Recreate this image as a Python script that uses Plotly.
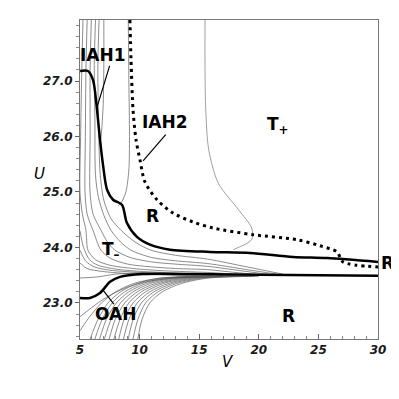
import plotly.graph_objects as go

# ---- data (V, U) ----
# thick separatrix through IAH1
iah1_v = [5.0, 5.67, 6.09, 6.34, 6.68, 6.93, 7.27, 7.77, 8.52, 8.94, 9.78, 10.87, 12.55, 15.9, 19.26, 22.87, 25.72, 30.0]
iah1_u = [27.18, 27.18, 27.02, 26.66, 25.94, 25.49, 25.04, 24.86, 24.77, 24.44, 24.19, 24.05, 23.96, 23.92, 23.90, 23.83, 23.81, 23.74]

# dotted curve IAH2
iah2_v = [9.19, 9.28, 9.45, 9.70, 10.03, 10.45, 11.46, 12.80, 14.48, 16.16, 19.51, 23.2, 25.13, 26.56, 27.06, 30.0]
iah2_u = [28.10, 27.38, 26.48, 25.94, 25.58, 25.18, 24.86, 24.62, 24.46, 24.35, 24.23, 24.14, 24.03, 23.92, 23.74, 23.65]

# thick curve OAH
oah_v = [5.0, 5.84, 6.68, 7.52, 8.36, 10.29, 14.48, 20.1, 30.0]
oah_u = [23.09, 23.09, 23.18, 23.38, 23.47, 23.52, 23.52, 23.51, 23.49]

# thin orbits above the OAH line
upper_v = [
    [6.6, 6.5, 6.55, 6.7, 7.0, 7.6, 8.44, 9.6, 10.96, 13.0, 15.7, 19.0, 22.0],
    [6.3, 6.2, 6.25, 6.3, 6.55, 7.0, 7.6, 8.4, 9.28, 11.0, 13.0, 15.7, 19.0, 21.5],
    [5.95, 5.85, 5.85, 5.84, 6.1, 6.76, 7.3, 7.94, 9.2, 11.0, 13.0, 15.7, 18.5, 21.0],
    [5.6, 5.5, 5.45, 5.42, 5.6, 6.09, 6.76, 7.6, 9.0, 11.0, 13.0, 15.7, 18.0, 20.5],
    [5.25, 5.15, 5.05, 5.0, 5.2, 5.5, 5.67, 6.3, 7.5, 9.5, 12.0, 15.7, 18.0, 20.0],
    [5.0, 5.3, 5.8, 6.5, 8.0, 10.0, 13.0, 17.0],
    [5.0, 5.5, 6.2, 7.5, 10.0, 14.0, 17.0],
    [5.0, 5.6, 6.8, 9.0, 13.0, 16.0],
    [5.0, 6.5, 8.0, 10.0, 14.0, 18.0],
]
upper_u = [
    [28.1, 27.3, 26.3, 25.3, 24.85, 24.52, 24.31, 24.1, 23.95, 23.86, 23.79, 23.65, 23.52],
    [28.1, 27.3, 26.3, 25.3, 24.9, 24.58, 24.31, 24.1, 23.95, 23.82, 23.76, 23.71, 23.6, 23.52],
    [28.1, 27.2, 26.0, 25.0, 24.6, 24.31, 24.1, 23.95, 23.82, 23.74, 23.7, 23.66, 23.58, 23.51],
    [28.1, 27.2, 26.0, 25.0, 24.6, 24.31, 23.95, 23.8, 23.7, 23.65, 23.62, 23.6, 23.55, 23.5],
    [28.1, 27.2, 26.0, 25.0, 24.6, 24.31, 23.95, 23.78, 23.68, 23.62, 23.58, 23.55, 23.52, 23.5],
    [24.3, 24.0, 23.78, 23.68, 23.61, 23.57, 23.54, 23.5],
    [23.95, 23.75, 23.65, 23.59, 23.55, 23.51, 23.5],
    [23.72, 23.62, 23.57, 23.53, 23.5, 23.49],
    [23.45, 23.47, 23.52, 23.54, 23.52, 23.5],
]

# thin orbits below the OAH line, V read at fixed U levels
lower_u = [22.35, 22.7, 23.0, 23.2, 23.35, 23.45, 23.48]
lower_v = [
    [5.85, 6.5, 7.35, 8.4, 9.8, 11.8, 17.0],
    [6.25, 6.85, 7.7, 8.75, 10.2, 12.2, 17.3],
    [6.65, 7.2, 8.05, 9.1, 10.55, 12.6, 17.6],
    [7.05, 7.6, 8.4, 9.45, 10.9, 13.0, 17.9],
    [7.45, 7.95, 8.75, 9.8, 11.3, 13.4, 18.2],
    [7.85, 8.35, 9.1, 10.15, 11.65, 13.8, 18.5],
    [8.25, 8.7, 9.45, 10.5, 12.0, 14.2, 18.8],
    [8.65, 9.1, 9.8, 10.85, 12.4, 14.6, 19.1],
    [9.05, 9.45, 10.15, 11.2, 12.75, 15.0, 19.4],
    [9.45, 9.85, 10.5, 11.55, 13.1, 15.4, 19.7],
    [9.85, 10.2, 10.85, 11.9, 13.5, 15.8, 20.0],
]
edge_v = [
    [5.0, 6.0, 7.2, 8.8, 10.5, 13.0, 17.0],
    [5.0, 5.8, 6.8, 8.0, 9.5, 11.5, 16.0],
]
edge_u = [
    [22.75, 22.92, 23.1, 23.27, 23.38, 23.45, 23.48],
    [22.5, 22.75, 23.0, 23.2, 23.35, 23.44, 23.48],
]

# other thin curves
near_v = [7.0, 7.0, 6.95, 6.85, 6.75]
near_u = [28.1, 27.3, 26.6, 26.2, 25.95]
nose_v = [9.05, 9.1, 9.15, 9.1, 8.85, 8.5, 8.2]
nose_u = [28.1, 27.0, 26.0, 25.4, 25.0, 24.82, 24.75]
right_v = [15.49, 15.49, 15.55, 15.8, 16.6, 18.3, 19.4, 19.4, 17.84]
right_u = [28.1, 27.15, 26.48, 25.76, 25.16, 24.68, 24.35, 24.14, 23.96]

u_ticks = [23.0, 24.0, 25.0, 26.0, 27.0]
v_ticks = [5, 10, 15, 20, 25, 30]

fig = go.Figure()

thin = dict(color="#5a5a5a", width=0.7)


def add_line(v, u, line, shape="spline"):
    fig.add_trace(go.Scatter(x=v, y=u, mode="lines", line=dict(shape=shape, smoothing=0.8, **line),
                             hoverinfo="skip", showlegend=False))


for v, u in zip(upper_v, upper_u):
    add_line(v, u, thin)
for v in lower_v:
    add_line(v, lower_u, thin)
for v, u in zip(edge_v, edge_u):
    add_line(v, u, thin)
add_line(near_v, near_u, thin)
add_line(nose_v, nose_u, thin)
add_line(right_v, right_u, dict(color="#777777", width=0.7))

# --> main curves
add_line(iah2_v, iah2_u, dict(color="black", width=3, dash="3px,4px"))
add_line(iah1_v, iah1_u, dict(color="black", width=2.5))
add_line(oah_v, oah_u, dict(color="black", width=2.5))

lab = dict(family="DejaVu Sans", size=17, color="black")
labels = [
    ("<b>IAH1</b>", 6.9, 27.47),
    ("<b>IAH2</b>", 12.15, 26.26),
    ("<b>R</b>", 11.05, 24.57),
    ("<b>R</b>", 22.5, 22.77),
    ("<b>T<sub>+</sub></b>", 21.6, 26.2),
    ("<b>T<sub>–</sub></b>", 7.6, 23.95),
    ("<b>OAH</b>", 7.95, 22.8),
]
for t, x, y in labels:
    fig.add_annotation(text=t, x=x, y=y, xref="x", yref="y", showarrow=False, font=lab)

# R outside the frame, on the right
fig.add_annotation(text="<b>R</b>", x=1.005, y=23.72, xref="paper", yref="y", xanchor="left",
                   showarrow=False, font=lab)

# --> leader lines
leaders = [
    (6.43, 26.53, 7.52, 27.3),
    (10.29, 25.56, 12.3, 26.06),
    (6.93, 23.23, 7.94, 22.95),
]
for x, y, ax, ay in leaders:
    fig.add_annotation(text="", x=x, y=y, ax=ax, ay=ay, xref="x", yref="y", axref="x", ayref="y",
                       showarrow=True, arrowhead=0, arrowwidth=1.2, arrowcolor="black")

# --> axis titles, upright italic as in the original
ttl = dict(family="DejaVu Sans", size=15, color="black")
fig.add_annotation(text="<i>U</i>", x=-0.16, y=25.32, xref="paper", yref="y", showarrow=False, font=ttl)
fig.add_annotation(text="<i>V</i>", x=17.4, y=-0.072, xref="x", yref="paper", yanchor="middle",
                   showarrow=False, font=ttl)

tickfont = dict(family="DejaVu Sans", size=12, color="#1a1a1a")
fig.update_xaxes(range=[5, 30], tickvals=v_ticks, ticktext=["<b><i>%d</i></b>" % t for t in v_ticks],
                 ticks="inside", ticklen=5, tickcolor="#666",
                 minor=dict(dtick=1, ticks="inside", ticklen=3, tickcolor="#888"),
                 showline=True, linecolor="#777", linewidth=1, mirror=True, showgrid=False, zeroline=False,
                 tickfont=tickfont, automargin=False)
fig.update_yaxes(range=[22.35, 28.1], tickvals=u_ticks, ticktext=["<b><i>%.1f</i></b>" % t for t in u_ticks],
                 ticks="outside", ticklen=4, tickcolor="#666",
                 minor=dict(dtick=0.2, ticks="outside", ticklen=3, tickcolor="#888"),
                 showline=True, linecolor="#777", linewidth=1, mirror=True, showgrid=False, zeroline=False,
                 tickfont=tickfont, automargin=False)

# page body adds an 8px offset, so the figure is sized 391 and margins shifted
fig.update_layout(width=391, height=391, autosize=False,
                  margin=dict(l=72, r=21, t=12, b=60, autoexpand=False),
                  plot_bgcolor="white", paper_bgcolor="white")

fig.write_html("out.html")
